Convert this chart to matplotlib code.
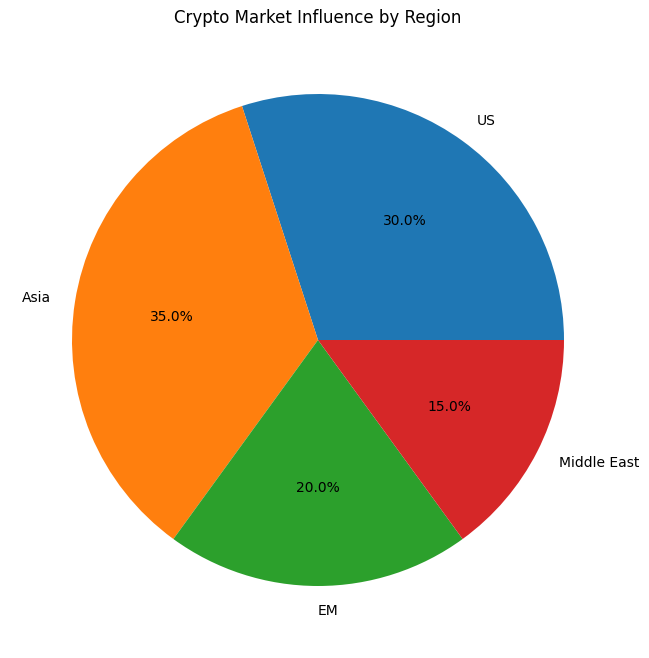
import matplotlib
matplotlib.use("Agg")
import matplotlib.pyplot as plt

# Data
regions = ['US', 'Asia', 'EM', 'Middle East']
shares = [30, 35, 20, 15]

W, H = 649, 658
fig = plt.figure(figsize=(W / 100, H / 100), dpi=100)

# pie centre ~ (318, 340) px, radius ~ 246 px
cx, cy, r = 318, 340, 246
ax = fig.add_axes([(cx - r) / W, (H - cy - r) / H, 2 * r / W, 2 * r / H])

ax.pie(shares, labels=regions, autopct='%1.1f%%')
ax.set_xlim(-1, 1)
ax.set_ylim(-1, 1)
ax.set_aspect('equal')

fig.text(cx / W, 1 - 18 / H, 'Crypto Market Influence by Region',
         ha='center', va='center', fontsize=12)

fig.savefig('out.png', dpi=100)
